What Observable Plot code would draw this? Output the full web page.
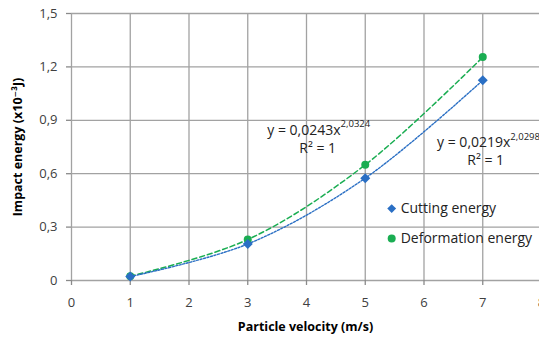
<!DOCTYPE html>
<html>
<head>
<meta charset="utf-8">
<script src="https://cdn.jsdelivr.net/npm/d3@7"></script>
<script src="https://cdn.jsdelivr.net/npm/@observablehq/plot@0.6"></script>
<style>
  html, body { margin: 0; padding: 0; background: #fff; }
  svg { font-family: "Open Sans", "DejaVu Sans", sans-serif; }
  g[aria-label="x-axis label"] text, g[aria-label="y-axis label"] text { font-weight: bold; fill: #000; font-size: 12.5px; }
</style>
</head>
<body>
<div id="chart"></div>
<script>
// Data
const velocity = [1, 3, 5, 7];
const cuttingEnergy = [0.022, 0.205, 0.575, 1.125];
const deformationEnergy = [0.024, 0.23, 0.65, 1.255];
const xTicks = [0, 1, 2, 3, 4, 5, 6, 7, 8];
const yTicks = [0, 0.3, 0.6, 0.9, 1.2, 1.5];
const seriesNames = ["Cutting energy", "Deformation energy"];
const seriesColors = ["#2a6fc4", "#1aad52"];
// Trendline equation labels [x, y, text]
const eqMain = [[4.58, 0.845, "y = 0,0243x"], [7.47, 0.775, "y = 0,0219x"]];
const eqExp = [[4.58, 0.845, "2,0324"], [7.47, 0.775, "2,0298"]];
const eqR2 = [[4.19, 0.742, "R² = 1"], [7.05, 0.672, "R² = 1"]];
// Legend anchor positions (data units)
const legendPos = [[5.45, 0.404], [5.45, 0.236]];

const cutting = velocity.map((v, i) => ({x: v, y: cuttingEnergy[i]}));
const deform = velocity.map((v, i) => ({x: v, y: deformationEnergy[i]}));
const legend = seriesNames.map((n, i) => ({x: legendPos[i][0], y: legendPos[i][1], name: n, color: seriesColors[i], symbol: i === 0 ? "diamond2" : "circle"}));
const fmt = d => String(d).replace(".", ",");

const chart = Plot.plot({
  width: 539,
  height: 339,
  marginLeft: 71,
  marginRight: 0,
  marginTop: 13,
  marginBottom: 59,
  style: {fontSize: "13px", color: "#404040", background: "#fff"},
  x: {domain: [0, 8], range: [71, 541]},
  y: {domain: [0, 1.5], range: [280, 13]},
  marks: [
    Plot.gridX(xTicks, {stroke: "#a2a2a2", strokeOpacity: 1, strokeWidth: 1.3}),
    Plot.gridY(yTicks, {stroke: "#a2a2a2", strokeOpacity: 1, strokeWidth: 1.3}),
    Plot.axisX({ticks: xTicks, tickFormat: fmt, tickSize: 5, tickPadding: 12, stroke: "#8a8a8a", strokeWidth: 1.3, fill: "#404040",
      label: "Particle velocity (m/s)", labelAnchor: "center", labelArrow: "none", labelOffset: 50}),
    Plot.axisY({ticks: yTicks, tickFormat: fmt, tickSize: 5, tickPadding: 9, stroke: "#8a8a8a", strokeWidth: 1.3, fill: "#404040",
      label: "Impact energy (x10⁻³J)", labelAnchor: "center", labelArrow: "none", labelOffset: 58}),
    Plot.line(deform, {x: "x", y: "y", stroke: seriesColors[1], strokeWidth: 1.5, strokeDasharray: "5,3", curve: "catmull-rom"}),
    Plot.line(cutting, {x: "x", y: "y", stroke: seriesColors[0], strokeWidth: 1.4, strokeDasharray: "2,1.6", curve: "catmull-rom"}),
    Plot.dot(deform, {x: "x", y: "y", fill: seriesColors[1], r: 4, symbol: "circle"}),
    Plot.dot(cutting, {x: "x", y: "y", fill: seriesColors[0], r: 4.5, symbol: "diamond2"}),
    Plot.text(eqMain, {x: d => d[0], y: d => d[1], text: d => d[2], textAnchor: "end", fontSize: 14, fill: "#222"}),
    Plot.text(eqExp, {x: d => d[0], y: d => d[1], text: d => d[2], textAnchor: "start", dy: -6, fontSize: 9.5, fill: "#222"}),
    Plot.text(eqR2, {x: d => d[0], y: d => d[1], text: d => d[2], textAnchor: "middle", fontSize: 14, fill: "#222"}),
    Plot.dot(legend, {x: "x", y: "y", fill: "color", symbol: "symbol", r: 4}),
    Plot.text(legend, {x: "x", y: "y", text: "name", textAnchor: "start", dx: 9, fontSize: 14, fill: "#222"})
  ]
});
document.getElementById("chart").appendChild(chart);
</script>
</body>
</html>
